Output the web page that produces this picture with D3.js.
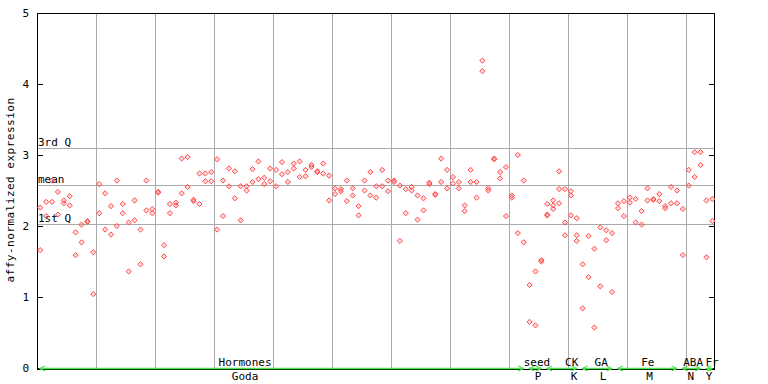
<!DOCTYPE html>
<html>
<head>
<meta charset="utf-8">
<script src="https://cdn.jsdelivr.net/npm/d3@7"></script>
<style>
  body { margin: 0; background: #fff; }
  text { font-family: "DejaVu Sans Mono", monospace; font-size: 11px; fill: #000; }
</style>
</head>
<body>
<div class="chart"></div>
<script>
// expression values per sample (replicates)
var expr = [
  [2.26, 1.66], [2.34, 2.14], [2.34, 2.64], [2.48, 2.16], [2.36, 2.32],
  [2.42, 2.29], [1.91, 1.59], [2.02, 1.77], [2.06, 2.07], [1.63, 1.04],
  [2.59, 2.18], [2.46, 1.95], [2.28, 1.88], [2.64, 2.00], [2.31, 2.18],
  [2.05, 1.36], [2.36, 2.08], [1.95, 1.46], [2.64, 2.22], [2.24, 2.18],
  [2.47, 2.48], [1.73, 1.57], [2.31, 2.18], [2.33, 2.29], [2.95, 2.46],
  [2.97, 2.55], [2.35, 2.37], [2.74, 2.31], [2.74, 2.63], [2.76, 2.63],
  [2.94, 1.95], [2.64, 2.14], [2.81, 2.56], [2.77, 2.39], [2.56, 2.08],
  [2.56, 2.50], [2.80, 2.62], [2.91, 2.66], [2.68, 2.59], [2.81, 2.63],
  [2.79, 2.56], [2.90, 2.73], [2.76, 2.62], [2.88, 2.81], [2.91, 2.69],
  [2.79, 2.70], [2.86, 2.83], [2.76, 2.77], [2.88, 2.74], [2.71, 2.36],
  [2.53, 2.45], [2.52, 2.49], [2.64, 2.35], [2.53, 2.43], [2.28, 2.15],
  [2.64, 2.50], [2.76, 2.43], [2.56, 2.40], [2.79, 2.56], [2.64, 2.49],
  [2.64, 2.62], [2.57, 1.79], [2.52, 2.18], [2.55, 2.50], [2.43, 2.09],
  [2.39, 2.22], [2.59, 2.61], [2.45, 2.44], [2.95, 2.62], [2.79, 2.53],
  [2.69, 2.60], [2.62, 2.53], [2.29, 2.21], [2.79, 2.62], [2.62, 2.40],
  [4.33, 4.18], [2.53, 2.50], [2.94, 2.95], [2.76, 2.67], [2.83, 2.14],
  [2.43, 2.40], [3.00, 1.90], [2.64, 1.77], [1.17, 0.65], [1.36, 0.60],
  [1.50, 1.52], [2.31, 2.16, 2.15], [2.36, 2.29, 2.24], [2.77, 2.52, 2.32], [2.52, 2.05, 1.87],
  [2.49, 2.43, 2.15], [2.11, 1.87, 1.79], [1.46, 0.84], [1.86, 1.28], [1.68, 0.57],
  [1.98, 1.15], [1.94, 1.80], [1.90, 1.07], [2.32, 2.25], [2.35, 2.14],
  [2.40, 2.33], [2.38, 2.05], [2.21, 2.02], [2.53, 2.36], [2.37, 2.38],
  [2.45, 2.35], [2.28, 2.25], [2.55, 2.32], [2.50, 2.32], [2.24, 1.59],
  [2.79, 2.57], [3.04, 2.69], [3.04, 2.86], [2.36, 1.56], [2.38, 2.07]
];

// sample groups along the bottom
var groupNames = ["Hormones", "seed", "CK", "GA", "Fe", "ABA", "Fr"];
var groupCodes = ["Goda", "P", "K", "L", "M", "N", "Y"];
var groupStart = [0, 83, 86, 92, 98, 109, 113];
var groupEnd = [82, 85, 91, 97, 108, 112, 114];

// reference lines
var statNames = ["3rd Q", "mean", "1st Q"];
var statValues = [3.094, 2.573, 2.024];

var yTicks = [0, 1, 2, 3, 4, 5];

// layout
var svgWidth = 768, svgHeight = 384;
var margin = { top: 13, right: 53, bottom: 16, left: 37 };
var width = svgWidth - margin.left - margin.right;
var height = svgHeight - margin.top - margin.bottom;
var nSamples = expr.length;

// label centres (in sample units) for the group names and codes
var nameAt = [35.3, 84.8, 90.7, 95.7, 103.6, 111.3, 114.5];
var codeAt = [35.3, 85.0, 91.1, 96.0, 103.9, 110.9, 114.0];

var svg = d3.select(".chart")
  .append("svg")
  .attr("width", svgWidth)
  .attr("height", svgHeight);

var g = svg.append("g")
  .attr("transform", `translate(${margin.left}, ${margin.top})`);

var x = d3.scaleLinear().domain([0, nSamples]).range([0, width]);
var y = d3.scaleLinear().domain([0, 5]).range([height, 0]);

// vertical grid every 10 samples
g.selectAll(".vgrid")
  .data(d3.range(10, nSamples, 10))
  .enter().append("line")
  .attr("x1", d => Math.round(x(d)) + 0.5)
  .attr("x2", d => Math.round(x(d)) + 0.5)
  .attr("y1", 0)
  .attr("y2", height)
  .attr("stroke", "#aaa");

// quartile / mean lines
g.selectAll(".hgrid")
  .data(statValues)
  .enter().append("line")
  .attr("x1", 0)
  .attr("x2", width)
  .attr("y1", d => Math.round(y(d)) + 0.5)
  .attr("y2", d => Math.round(y(d)) + 0.5)
  .attr("stroke", "#aaa");

g.selectAll(".statlabel")
  .data(statValues)
  .enter().append("text")
  .attr("x", 1)
  .attr("y", d => Math.round(y(d)) - 2)
  .text((d, i) => statNames[i]);

// left axis
var yAxis = d3.axisLeft(y).tickValues(yTicks).tickSize(-6).tickPadding(8).tickFormat(d3.format("d"));
var ya = g.append("g").call(yAxis);
ya.select(".domain").remove();
ya.selectAll("line").attr("stroke", "#000");
ya.selectAll("text").style("font-family", "DejaVu Sans Mono").style("font-size", "11px");

// right axis, ticks only
var yAxisR = d3.axisRight(y).tickValues(yTicks).tickSize(-6).tickFormat("");
var yr = g.append("g").attr("transform", `translate(${width},0)`).call(yAxisR);
yr.select(".domain").remove();
yr.selectAll("line").attr("stroke", "#000");

// frame
g.append("path")
  .attr("d", `M0.5,${height + 1}V0.5H${width - 0.5}V${height + 1}`)
  .attr("fill", "none")
  .attr("stroke", "#000");
g.append("line")
  .attr("x1", 0).attr("x2", width)
  .attr("y1", height + 1.5).attr("y2", height + 1.5)
  .attr("stroke", "#000");

// y title
svg.append("text")
  .attr("transform", "translate(14, 190) rotate(-90)")
  .attr("text-anchor", "middle")
  .style("letter-spacing", "0.5px")
  .text("affy-normalized expression");

// group brackets
var green = "#4ee44e";
var brackets = g.selectAll(".bracket")
  .data(groupNames)
  .enter().append("g");

brackets.append("line")
  .attr("x1", (d, i) => x(groupStart[i]) + 3)
  .attr("x2", (d, i) => x(groupEnd[i] + 1) - 3)
  .attr("y1", height + 0.5)
  .attr("y2", height + 0.5)
  .attr("stroke", green)
  .attr("stroke-width", 1.5);

brackets.append("path")
  .attr("d", (d, i) => {
    var a = x(groupStart[i]) + 3, b = x(groupEnd[i] + 1) - 3, yy = height + 0.5;
    return `M${a + 5},${yy - 2.5}L${a},${yy}L${a + 5},${yy + 2.5}` +
      `M${b - 5},${yy - 2.5}L${b},${yy}L${b - 5},${yy + 2.5}`;
  })
  .attr("fill", "none")
  .attr("stroke", green)
  .attr("stroke-width", 1.2);

brackets.append("text")
  .attr("x", (d, i) => x(nameAt[i]))
  .attr("y", height - 2)
  .attr("text-anchor", "middle")
  .text(d => d);

brackets.append("text")
  .attr("x", (d, i) => x(codeAt[i]))
  .attr("y", height + 12)
  .attr("text-anchor", "middle")
  .text((d, i) => groupCodes[i]);

// points
var pts = [];
expr.forEach(function(vals, i) {
  vals.forEach(function(v) { pts.push({ i: i, v: v }); });
});

g.selectAll(".pt")
  .data(pts)
  .enter().append("path")
  .attr("transform", d => `translate(${x(d.i + 0.55)},${y(d.v)})`)
  .attr("d", "M0,-2.6L2.6,0L0,2.6L-2.6,0Z")
  .attr("fill", "#ff6a6a")
  .attr("fill-opacity", 0.25)
  .attr("stroke", "#ff4a4a")
  .attr("stroke-width", 1);
</script>
</body>
</html>
